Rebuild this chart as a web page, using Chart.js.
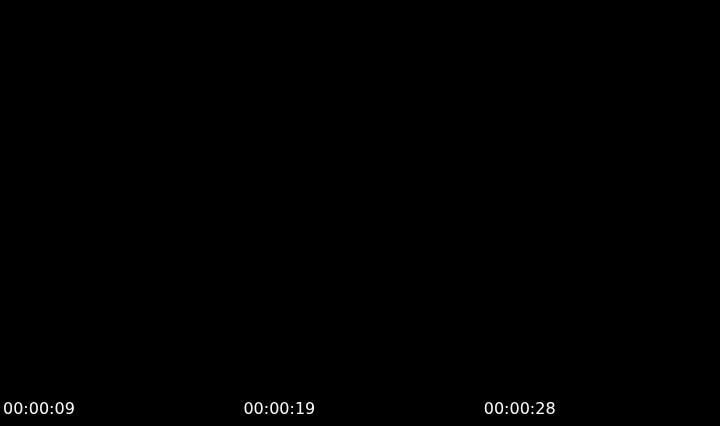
<!DOCTYPE html>
<html>
<head>
<meta charset="utf-8">
<style>
  html, body { margin: 0; padding: 0; background: #000; }
  #wrap { width: 720px; height: 426px; position: relative; background: #000; }
  canvas { display: block; }
</style>
<script src="https://cdn.jsdelivr.net/npm/chart.js@4/dist/chart.umd.min.js"></script>
</head>
<body>
<div id="wrap"><canvas id="c" width="720" height="426"></canvas></div>
<script>
// Time stamps of the samples (only every 6th label is shown by the axis)
const timeLabels = [
  '00:00:09', '00:00:11', '00:00:12', '00:00:14', '00:00:16', '00:00:17',
  '00:00:19', '00:00:20', '00:00:22', '00:00:23', '00:00:25', '00:00:26',
  '00:00:28', '00:00:29', '00:00:31', '00:00:33', '00:00:34', '00:00:36'
];
// No visible marks in the reference: the series carries no plotted values
const seriesValues = [
  null, null, null, null, null, null, null, null, null,
  null, null, null, null, null, null, null, null, null
];

new Chart(document.getElementById('c'), {
  type: 'line',
  data: {
    labels: timeLabels,
    datasets: [{
      label: 'value',
      data: seriesValues,
      borderColor: '#000',
      backgroundColor: '#000',
      pointRadius: 0
    }]
  },
  options: {
    responsive: false,
    animation: false,
    devicePixelRatio: 1,
    layout: { padding: { left: 1, bottom: 4 } },
    plugins: { legend: { display: false }, tooltip: { enabled: false } },
    scales: {
      x: {
        grid: { display: false },
        border: { display: false },
        ticks: {
          color: '#ffffff',
          font: { family: 'DejaVu Sans', size: 16 },
          maxRotation: 0,
          minRotation: 0,
          maxTicksLimit: 3,
          autoSkip: true
        }
      },
      y: { display: false }
    }
  },
  plugins: [{
    id: 'bg',
    beforeDraw(chart) {
      const ctx = chart.ctx;
      ctx.save();
      ctx.fillStyle = '#000';
      ctx.fillRect(0, 0, chart.width, chart.height);
      ctx.restore();
    }
  }]
});
</script>
</body>
</html>
